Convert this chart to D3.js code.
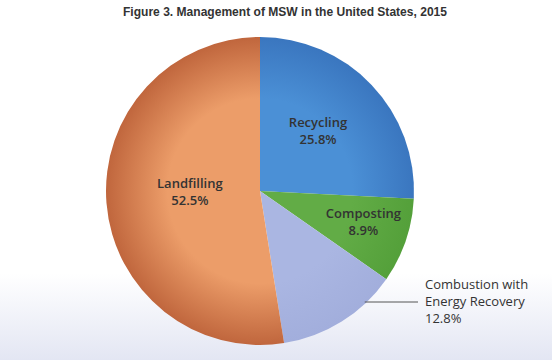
<!DOCTYPE html>
<html><head><meta charset="utf-8">
<script src="https://cdn.jsdelivr.net/npm/d3@7/dist/d3.min.js"></script>
<style>html,body{margin:0;padding:0;background:#fff;}svg{display:block;}</style>
</head><body>
<svg id="c" width="552" height="360"></svg>
<script>
const title = "Figure 3. Management of MSW in the United States, 2015";
const categories = ["Recycling", "Composting", "Combustion with Energy Recovery", "Landfilling"];
const values = [25.8, 8.9, 12.8, 52.5];
const valueLabels = ["25.8%", "8.9%", "12.8%", "52.5%"];

const colorsInner = ["#4b90d6", "#62ac46", "#aab6e2", "#ec9d69"];
const colorsOuter = ["#3a76bf", "#54a03a", "#a2aedc", "#c0663d"];

const W = 552, H = 360, cx = 260, cy = 191, R = 154;
const svg = d3.select("#c");
const defs = svg.append("defs");
const bg = defs.append("linearGradient").attr("id","bg").attr("x1",0).attr("y1",0).attr("x2",0).attr("y2",1);
bg.append("stop").attr("offset","0").attr("stop-color","#ffffff");
bg.append("stop").attr("offset","0.76").attr("stop-color","#ffffff");
bg.append("stop").attr("offset","1").attr("stop-color","#e3e6f3");
svg.append("rect").attr("width",W).attr("height",H).attr("fill","url(#bg)");

categories.forEach((c,i)=>{
  const g = defs.append("radialGradient").attr("id","g"+i)
    .attr("gradientUnits","userSpaceOnUse").attr("cx",0).attr("cy",0).attr("r",R);
  g.append("stop").attr("offset","0").attr("stop-color",colorsInner[i]);
  g.append("stop").attr("offset","0.6").attr("stop-color",colorsInner[i]);
  g.append("stop").attr("offset","1").attr("stop-color",colorsOuter[i]);
});

svg.append("text").attr("x",285).attr("y",16).attr("text-anchor","middle")
  .attr("font-family","'Liberation Sans',Arial,sans-serif")
  .attr("font-weight","bold").attr("font-size",13.5).attr("fill","#333")
  .attr("textLength",324).attr("lengthAdjust","spacingAndGlyphs")
  .text(title);

const pie = d3.pie().sort(null).value(d=>d)(values);
const arc = d3.arc().innerRadius(0).outerRadius(R);
const gp = svg.append("g").attr("transform",`translate(${cx},${cy})`);
gp.selectAll("path").data(pie).join("path")
  .attr("d",arc).attr("fill",(d,i)=>`url(#g${i})`);

const lblFont = "'Open Sans','Noto Sans',sans-serif";
const labelArc = [0.52, 0.71, 0, 0.457];
pie.forEach((d,i)=>{
  if(i===2) return;
  const a = d3.arc().innerRadius(R*labelArc[i]).outerRadius(R*labelArc[i]);
  const [x,y] = a.centroid(d);
  const t = gp.append("text").attr("text-anchor","middle")
    .attr("font-family",lblFont).attr("font-weight",600).attr("font-size",13).attr("fill","#333");
  t.append("tspan").attr("x",x).attr("y",y-8.5).text(categories[i]);
  t.append("tspan").attr("x",x).attr("y",y+8.5).text(valueLabels[i]);
});

// Combustion callout
const ly = 302 - cy;
const ex = Math.sqrt(R*R - ly*ly) - 2;
gp.append("line").attr("x1",ex).attr("y1",ly).attr("x2",418-cx).attr("y2",ly)
  .attr("stroke","#555").attr("stroke-width",1);
const ct = svg.append("text").attr("font-family",lblFont).attr("font-size",13).attr("fill","#333");
["Combustion with","Energy Recovery",valueLabels[2]].forEach((s,k)=>{
  ct.append("tspan").attr("x",425).attr("y",289+k*17).text(s);
});
</script>
</body></html>
